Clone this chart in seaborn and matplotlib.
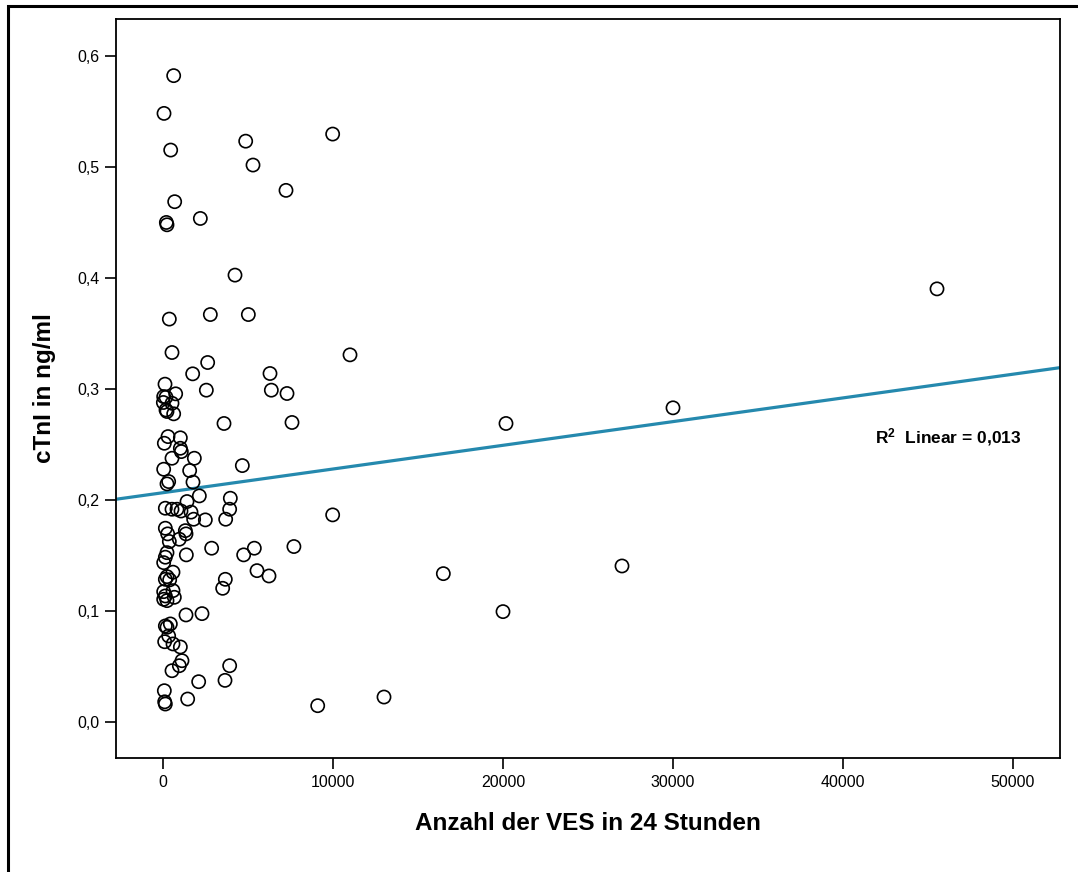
import numpy as np
import pandas as pd
import matplotlib
matplotlib.use("Agg")
import matplotlib.pyplot as plt
import seaborn as sns
from matplotlib.patches import Rectangle
from matplotlib.ticker import FuncFormatter

# --- data ---
ves = [628, 59, 452, 4864, 5294, 7235, 687, 196, 235, 2196, 4235,
       9980, 11000, 20176, 30000, 45530,
       9980, 7700, 16490, 27000, 20000, 9100, 13000,
       372, 2784, 5020, 529, 2627, 1745, 6294, 118, 2549, 6372, 7294,
       40, 176, 745, 20, 529, 235, 628, 176,
       3588, 7588, 294, 1020, 78, 1020, 1078, 529, 1843, 4666, 40, 1568,
       333, 235, 1764, 2137, 3960, 3921, 3686, 1412, 137, 529, 823, 1059,
       1647, 1803, 2490, 137, 1313,
       274, 1353, 960, 372, 2862, 5372, 235, 1372, 4745, 137, 40,
       588, 235, 137, 392, 5529, 6235, 3666, 3510,
       40, 588, 137, 666, 40, 235,
       1353, 2294, 137, 431, 235, 333, 98, 588, 1020,
       1117, 960, 529, 3921, 2098, 3647, 78, 98, 137, 1451]
ctni = [0.582, 0.548, 0.515, 0.523, 0.5015, 0.4787, 0.4685, 0.4498, 0.4477, 0.4534, 0.4024,
        0.5294, 0.3306, 0.2688, 0.2829, 0.390,
        0.1865, 0.158, 0.1336, 0.1405, 0.0994, 0.0147, 0.0225,
        0.3628, 0.3669, 0.3669, 0.3327, 0.3237, 0.3135, 0.3138, 0.3042, 0.2988, 0.2988, 0.2958,
        0.293, 0.2925, 0.2955, 0.2877, 0.287, 0.2796, 0.2775, 0.281,
        0.2688, 0.2697, 0.257, 0.2559, 0.251, 0.2465, 0.2435, 0.2375, 0.2375, 0.2309, 0.2276, 0.2264,
        0.2165, 0.2144, 0.216, 0.2036, 0.2015, 0.1916, 0.1826, 0.1985, 0.1925, 0.1916, 0.1916, 0.190,
        0.189, 0.1826, 0.182, 0.1745, 0.1723,
        0.1694, 0.1694, 0.1646, 0.1625, 0.1565, 0.1565, 0.1525, 0.1505, 0.1505, 0.1484, 0.1435,
        0.1349, 0.1309, 0.1285, 0.128, 0.1363, 0.1315, 0.1285, 0.1204,
        0.1174, 0.1183, 0.1135, 0.1123, 0.1105, 0.1093,
        0.0964, 0.0976, 0.0865, 0.0883, 0.0853, 0.0775, 0.0723, 0.0703, 0.0676,
        0.0552, 0.0507, 0.0462, 0.0507, 0.0363, 0.0375, 0.0282, 0.0182, 0.0162, 0.0207]

x_ticks = [0, 10000, 20000, 30000, 40000, 50000]
y_ticks = [0.0, 0.1, 0.2, 0.3, 0.4, 0.5, 0.6]
x_label = "Anzahl der VES in 24 Stunden"
y_label = "cTnI in ng/ml"
r2_text = "R$\\mathbf{^2}$  Linear = 0,013"

df = pd.DataFrame({"ves": ves, "ctni": ctni})

sns.set_theme(style="white")
plt.rcParams['font.family'] = ['Liberation Sans', 'DejaVu Sans']
plt.rcParams['mathtext.fontset'] = 'custom'
plt.rcParams['mathtext.rm'] = 'Liberation Sans'
plt.rcParams['mathtext.bf'] = 'Liberation Sans:bold'
plt.rcParams['text.color'] = 'black'
plt.rcParams['axes.labelcolor'] = 'black'
plt.rcParams['xtick.color'] = 'black'
plt.rcParams['ytick.color'] = 'black'

fig = plt.figure(figsize=(10.78, 8.72), dpi=100)
ax = fig.add_axes([116/1078, 1 - 758/872, (1060-116)/1078, (758-19)/872])

xlim = (-2765, 52765)
ylim = (-0.0324, 0.633)
ax.set_xlim(*xlim)
ax.set_ylim(*ylim)

sns.scatterplot(data=df, x="ves", y="ctni", ax=ax, s=90, marker="o",
                facecolors="none", edgecolor="black", linewidth=1.2, zorder=3)

# linear fit line spanning the axis
coef = np.polyfit(df["ves"], df["ctni"], 1)
xx = np.array(xlim)
line_df = pd.DataFrame({"x": xx, "y": np.polyval(coef, xx)})
sns.lineplot(data=line_df, x="x", y="y", ax=ax, color="#2589ae", linewidth=2.3, zorder=2)

ax.set_xlim(*xlim)
ax.set_ylim(*ylim)
ax.set_xticks(x_ticks)
ax.set_yticks(y_ticks)
ax.yaxis.set_major_formatter(FuncFormatter(lambda v, p: f"{v:.1f}".replace(".", ",")))
ax.xaxis.set_major_formatter(FuncFormatter(lambda v, p: f"{int(v)}"))
ax.tick_params(axis="both", direction="out", length=8, width=1.2, labelsize=11.5,
               colors="black", labelcolor="black", bottom=True, left=True, pad=4)
for sp in ax.spines.values():
    sp.set_color("black")
    sp.set_linewidth(1.3)

ax.set_xlabel(x_label, fontsize=17.5, fontweight="bold", labelpad=16, color="black")
ax.set_ylabel(y_label, fontsize=17.5, fontweight="bold", labelpad=15, color="black")

ax.text(41900, 0.257, r2_text, fontsize=12.5, fontweight="bold", va="center", ha="left",
        color="black")

# outer frame
fig.patches.append(Rectangle((8/1078, -0.05), 1.1, 1 - 6/872 + 0.05, transform=fig.transFigure,
                             fill=False, edgecolor="black", linewidth=2.2))

fig.savefig("out.png", dpi=100)
